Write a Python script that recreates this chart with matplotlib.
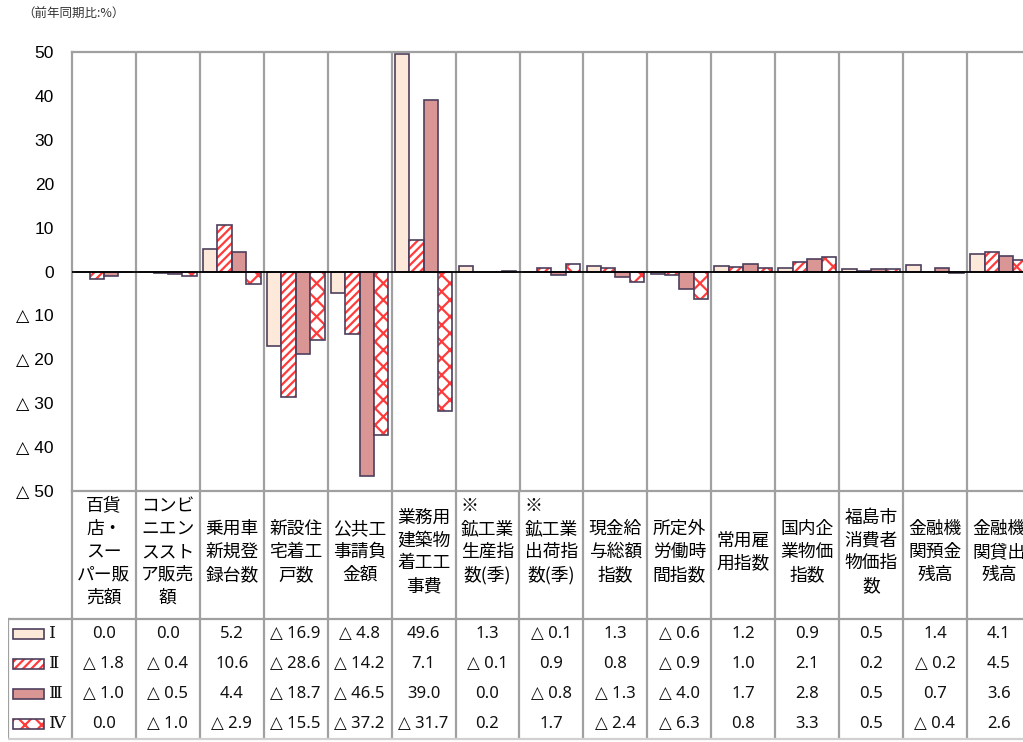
import matplotlib
matplotlib.use("Agg")
import matplotlib.pyplot as plt
import numpy as np
from matplotlib.patches import Rectangle
from matplotlib.ticker import FuncFormatter

categories = [
    "百貨\n店・\nスー\nパー販\n売額",
    "コンビ\nニエン\nススト\nア販売\n額",
    "乗用車\n新規登\n録台数",
    "新設住\n宅着工\n戸数",
    "公共工\n事請負\n金額",
    "業務用\n建築物\n着工工\n事費",
    "※　　\n鉱工業\n生産指\n数(季)\n",
    "※　　\n鉱工業\n出荷指\n数(季)\n",
    "現金給\n与総額\n指数",
    "所定外\n労働時\n間指数",
    "常用雇\n用指数",
    "国内企\n業物価\n指数",
    "福島市\n消費者\n物価指\n数",
    "金融機\n関預金\n残高",
    "金融機\n関貸出\n残高",
]
series_names = ["Ⅰ", "Ⅱ", "Ⅲ", "Ⅳ"]
q1 = [0.0, 0.0, 5.2, -16.9, -4.8, 49.6, 1.3, -0.1, 1.3, -0.6, 1.2, 0.9, 0.5, 1.4, 4.1]
q2 = [-1.8, -0.4, 10.6, -28.6, -14.2, 7.1, -0.1, 0.9, 0.8, -0.9, 1.0, 2.1, 0.2, -0.2, 4.5]
q3 = [-1.0, -0.5, 4.4, -18.7, -46.5, 39.0, 0.0, -0.8, -1.3, -4.0, 1.7, 2.8, 0.5, 0.7, 3.6]
q4 = [0.0, -1.0, -2.9, -15.5, -37.2, -31.7, 0.2, 1.7, -2.4, -6.3, 0.8, 3.3, 0.5, -0.4, 2.6]
series = [q1, q2, q3, q4]
yticks = [50, 40, 30, 20, 10, 0, -10, -20, -30, -40, -50]

plt.rcParams['hatch.linewidth'] = 1.6

W, H = 1023, 742
fig = plt.figure(figsize=(W / 100, H / 100), dpi=100)

EDGE = "#4d3f5c"
HATCH = "#ff3b3b"
GRID = "#a0a0a0"
fills = ["#fde9d9", "white", "#d99694", "white"]
hatches = [None, "////", None, "xx"]

# main axes: left 72px, top 52px, bottom 491px, 15 columns of ~63.93 px
colw = 63.93
ax = fig.add_axes([72 / W, 1 - 491 / H, 15 * colw / W, (491 - 52) / H])
ax.set_xlim(0, 15)
ax.set_ylim(-50, 50)

n = len(categories)
x = np.arange(n) + 0.5
bw = 0.225
offsets = np.array([-1.5, -0.5, 0.5, 1.5]) * bw

for i, vals in enumerate(series):
    if hatches[i] is None:
        ax.bar(x + offsets[i], vals, width=bw, color=fills[i], edgecolor=EDGE,
               linewidth=1.2, zorder=2)
    else:
        ax.bar(x + offsets[i], vals, width=bw, color="white", edgecolor=HATCH,
               hatch=hatches[i], linewidth=0, zorder=2)
        ax.bar(x + offsets[i], vals, width=bw, fill=False, edgecolor=EDGE,
               linewidth=1.2, zorder=2.5)

for k in range(1, n + 1):
    ax.axvline(k, color=GRID, lw=1.6, zorder=1)
ax.axhline(0, color="black", lw=1.3, zorder=3)

for s in ["top", "left", "bottom", "right"]:
    ax.spines[s].set_color(GRID)
    ax.spines[s].set_linewidth(1.6)

ax.set_xticks([])
ax.set_yticks(yticks)
ax.yaxis.set_major_formatter(FuncFormatter(
    lambda v, p: ("△ %d" % abs(v)) if v < 0 else "%d" % v))
ax.tick_params(axis="y", length=0, pad=13, labelsize=12.5)
for lab in ax.get_yticklabels():
    lab.set_family(["Liberation Sans", "DejaVu Sans"])

fig.text(22 / W, 1 - 14 / H, "（前年同期比:%）", fontsize=9, color="#333333",
         family=["Noto Sans CJK JP", "DejaVu Sans"], va="center", ha="left")

# table axes, coordinates: x in column units (-1 = legend column), y in pixels
tax = fig.add_axes([8 / W, 0, 16 * colw / W, (H - 491) / H])
tax.set_xlim(-1, 15)
tax.set_ylim(H, 491)
tax.axis("off")

for k in range(0, n + 1):
    tax.plot([k, k], [491, 738], color=GRID, lw=1.6, solid_capstyle="butt")
tax.plot([-1, -1], [619, 738], color=GRID, lw=1.6)
tax.plot([-1, 15], [619, 619], color=GRID, lw=1.6)
tax.plot([-1, 15], [738.5, 738.5], color="#d0d0d0", lw=1.6)

cjk = ["Noto Sans CJK JP", "DejaVu Sans"]
for i, c in enumerate(categories):
    tax.text(i + 0.5, 552, c, ha="center", va="center", fontsize=12.8,
             family=cjk, linespacing=1.35, color="#000000")

row_y = [634, 664, 694, 724]


def fmt(v):
    return ("△ %.1f" % abs(v)) if v < 0 else "%.1f" % v


for r, vals in enumerate(series):
    for i, v in enumerate(vals):
        tax.text(i + 0.5, row_y[r], fmt(v), ha="center", va="center",
                 fontsize=12, family=["Noto Sans", "DejaVu Sans"], color="#111111")
    # legend key
    x0, x1 = -0.922, -0.437
    if hatches[r] is None:
        tax.add_patch(Rectangle((x0, row_y[r] - 5), x1 - x0, 10, facecolor=fills[r],
                                edgecolor=EDGE, lw=1.2))
    else:
        tax.add_patch(Rectangle((x0, row_y[r] - 5), x1 - x0, 10, facecolor="white",
                                edgecolor=HATCH, hatch=hatches[r], lw=0))
        tax.add_patch(Rectangle((x0, row_y[r] - 5), x1 - x0, 10, fill=False,
                                edgecolor=EDGE, lw=1.2))
    tax.text(-0.36, row_y[r], series_names[r], ha="left", va="center",
             fontsize=12.5, family=["DejaVu Serif", "Noto Sans CJK JP"], color="#111111")

fig.savefig("out.png", dpi=100)
